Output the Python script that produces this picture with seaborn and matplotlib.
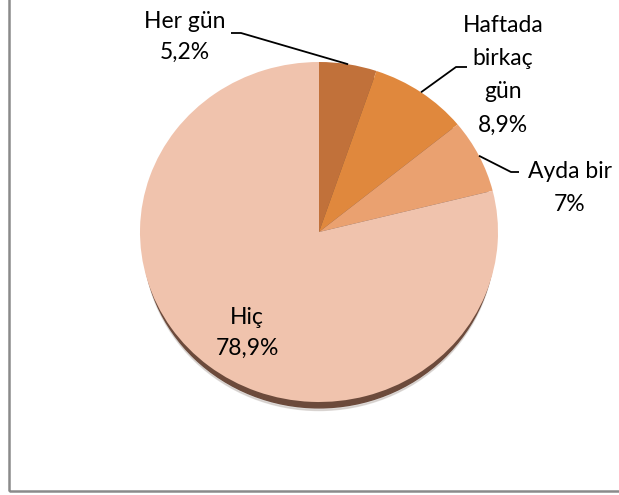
import numpy as np
import matplotlib
matplotlib.use("Agg")
import matplotlib.pyplot as plt
from matplotlib.patches import Ellipse, Rectangle
import seaborn as sns

# data
categories = ["Her gün", "Haftada\nbirkaç\ngün", "Ayda bir", "Hiç"]
percent_labels = ["5,2%", "8,9%", "7%", "78,9%"]
values = [5.2, 8.9, 7.0, 78.9]
colors = ["#C1713A", "#E0883D", "#EAA170", "#F0C3AD"]


def main():
    sns.set_style("white")
    plt.rcParams["font.family"] = ["Lato", "DejaVu Sans"]

    W, H = 619, 495
    fig = plt.figure(figsize=(W / 100, H / 100), dpi=100)
    fig.patch.set_facecolor("white")

    # pie geometry in pixels (top-left origin)
    cx, cy, rx, ry = 319, 232, 179, 170
    ax = fig.add_axes([(cx - rx) / W, (H - cy - ry) / H, 2 * rx / W, 2 * ry / H])

    def px(x, y):
        return (x - cx) / rx, (cy - y) / ry

    # dark rim / soft shadow underneath
    ax.add_patch(Ellipse((0, -0.06), 1.96, 1.98, color="#C9C2BE", alpha=0.6,
                         zorder=0, clip_on=False))
    ax.add_patch(Ellipse((0, -0.042), 1.965, 1.985, color="#6C4A3B",
                         zorder=1, clip_on=False))

    wedges, _ = ax.pie(
        values,
        colors=colors,
        startangle=90,
        counterclock=False,
        radius=1,
        wedgeprops=dict(linewidth=0),
    )
    for w in wedges:
        w.set_zorder(2)
    ax.set_aspect("auto")
    ax.set_xlim(-1, 1)
    ax.set_ylim(-1, 1)
    ax.axis("off")

    # anchor points at the middle of each slice edge
    fracs = np.array(values) / sum(values)
    starts = np.concatenate([[0], np.cumsum(fracs)[:-1]])
    mids = 90 - 360 * (starts + fracs / 2)
    anchors = [(np.cos(np.radians(a)), np.sin(np.radians(a))) for a in mids]

    fs = 16.5
    tkw = dict(fontsize=fs, ha="center", va="center", color="#000000",
               clip_on=False)

    def leader(i, p1, p2):
        e1, e2 = px(*p1), px(*p2)
        ax.plot([anchors[i][0], e1[0], e2[0]], [anchors[i][1], e1[1], e2[1]],
                color="black", lw=1.3, clip_on=False, zorder=5,
                solid_capstyle="butt")

    # Her gün
    ax.text(*px(185, 37), categories[0] + "\n" + percent_labels[0],
            linespacing=1.6, **tkw)
    leader(0, (241, 33), (231, 33))

    # Haftada birkaç gün
    ax.text(*px(503, 75), categories[1] + "\n" + percent_labels[1],
            linespacing=1.72, **tkw)
    leader(1, (456, 67), (467, 67))

    # Ayda bir
    ax.text(*px(570, 188), categories[2] + "\n" + percent_labels[2],
            linespacing=1.72, **tkw)
    leader(2, (511, 172), (519, 172))

    # Hiç (inside)
    ax.text(*px(247, 333), categories[3] + "\n" + percent_labels[3],
            linespacing=1.62, **tkw)

    # chart frame (left and bottom edges visible)
    fig.patches.append(Rectangle((9 / W, 4 / H), 1.0, 1.0, transform=fig.transFigure,
                                 fill=False, edgecolor="#8A8A8A", linewidth=1.8))

    fig.savefig("out.png", dpi=100, facecolor="white")


if __name__ == "__main__":
    main()
